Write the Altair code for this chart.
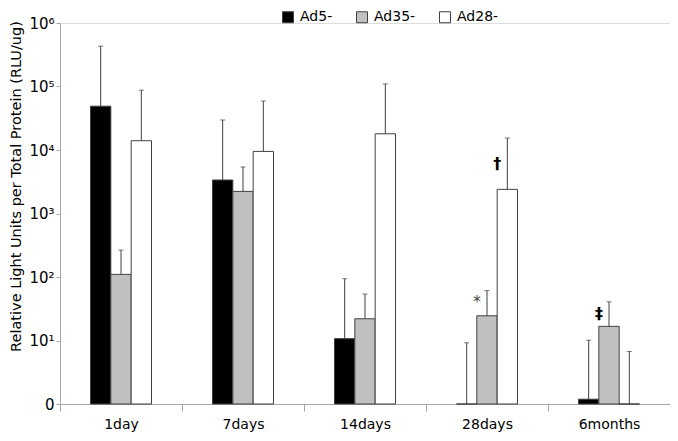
import altair as alt
import pandas as pd

categories = ["1day", "7days", "14days", "28days", "6months"]
series = ["Ad5-", "Ad35-", "Ad28-"]

ad5 = [49000, 3370, 10.7, 1.0, 1.19]
ad35 = [110, 2230, 22, 24.5, 16.7]
ad28 = [14000, 9500, 18000, 2400, 1.0]

ad5_err = [432000, 29700, 94, 9.2, 10.1]
ad35_err = [265, 5400, 54, 61, 40.7]
ad28_err = [87500, 59000, 110000, 15400, 6.7]

tick_values = [1, 10, 100, 1000, 10000, 100000, 1000000]

ann_labels = ["*", "†", "‡"]
ann_categories = ["28days", "28days", "6months"]
ann_series = ["Ad35-", "Ad28-", "Ad35-"]

rows = []
for s, vals, errs in [("Ad5-", ad5, ad5_err), ("Ad35-", ad35, ad35_err), ("Ad28-", ad28, ad28_err)]:
    for c, v, e in zip(categories, vals, errs):
        rows.append({"category": c, "series": s, "value": v, "err": e})
df = pd.DataFrame(rows)

ann = pd.DataFrame({"category": ann_categories, "series": ann_series, "label": ann_labels})
ann = ann.merge(df, on=["category", "series"])

FONT = "DejaVu Sans"
AXIS_GRAY = "#a6a6a6"
EDGE = "#404040"

# empty slots either side of the three bars keep each group centred in its band
offset_domain = ["_gapL"] + series + ["_gapR"]

x_enc = alt.X(
    "category:N",
    sort=categories,
    scale=alt.Scale(paddingInner=0, paddingOuter=0),
    axis=alt.Axis(
        title=None,
        tickBand="extent",
        domainColor=AXIS_GRAY,
        tickColor=AXIS_GRAY,
        tickSize=7,
        labelFontSize=14,
        labelColor="#000000",
        labelPadding=6,
        labelAngle=0,
        labelFont=FONT,
    ),
)
xoff_enc = alt.XOffset(
    "series:N",
    scale=alt.Scale(domain=offset_domain, paddingInner=0, paddingOuter=0.5),
)

label_expr = (
    "datum.value < 5 ? '0' : '10' + (datum.value < 50 ? '¹' : datum.value < 500 ? '²' : "
    "datum.value < 5000 ? '³' : datum.value < 50000 ? '⁴' : datum.value < 500000 ? '⁵' : '⁶')"
)

y_enc = alt.Y(
    "value:Q",
    scale=alt.Scale(type="log", domain=[1, 1000000], nice=False),
    axis=alt.Axis(
        values=tick_values,
        labelExpr=label_expr,
        title="Relative Light Units per Total Protein (RLU/ug)",
        titleFont=FONT,
        titleFontSize=14.5,
        titleFontWeight="normal",
        titleColor="#000000",
        titleX=-40,
        titleY=163,
        titleBaseline="alphabetic",
        domainColor=AXIS_GRAY,
        tickColor=AXIS_GRAY,
        tickSize=4,
        labelFontSize=15,
        labelFont=FONT,
        labelColor="#000000",
        labelPadding=2,
        grid=False,
    ),
)

bars = alt.Chart(df).mark_bar(stroke=EDGE, strokeWidth=1).encode(
    x=x_enc,
    xOffset=xoff_enc,
    y=y_enc,
    y2=alt.datum(1),
    color=alt.Color(
        "series:N",
        sort=series,
        scale=alt.Scale(domain=series, range=["#000000", "#c0c0c0", "#ffffff"]),
        legend=alt.Legend(
            title=None,
            orient="none",
            legendX=221,
            legendY=-13,
            direction="horizontal",
            columns=3,
            symbolType="square",
            symbolSize=121,
            symbolStrokeColor=EDGE,
            symbolStrokeWidth=1,
            labelFontSize=14,
            labelFont=FONT,
            labelColor="#000000",
            labelOffset=5,
            columnPadding=21,
            padding=0,
        ),
    ),
)

err_rule = alt.Chart(df).mark_rule(color=EDGE, strokeWidth=1).encode(
    x=x_enc, xOffset=xoff_enc, y="value:Q", y2="err:Q"
)
err_cap = alt.Chart(df).mark_tick(color=EDGE, thickness=1, size=5, orient="horizontal").encode(
    x=x_enc, xOffset=xoff_enc, y="err:Q"
)

def ann_layer(lbl, dy, size, weight, color):
    return (
        alt.Chart(ann)
        .transform_filter(alt.datum.label == lbl)
        .mark_text(dx=-10, dy=dy, fontSize=size, fontWeight=weight, color=color, font=FONT,
                   align="center", baseline="middle")
        .encode(x=x_enc, xOffset=xoff_enc, y="value:Q", text="label:N")
    )

anns = (
    ann_layer("*", -14, 15, "normal", "#404040")
    + ann_layer("†", -25, 16, "bold", "#000000")
    + ann_layer("‡", -12, 16, "bold", "#000000")
)

chart = (
    alt.layer(bars, err_rule, err_cap, anns)
    .properties(
        width=610,
        height=381,
        autosize=alt.AutoSizeParams(type="none"),
        padding={"left": 52, "top": 15, "right": 0, "bottom": 29},
    )
    .configure_view(stroke=None)
    .configure(font=FONT)
)

chart.save("out.html", embed_options={"renderer": "svg", "actions": False})
